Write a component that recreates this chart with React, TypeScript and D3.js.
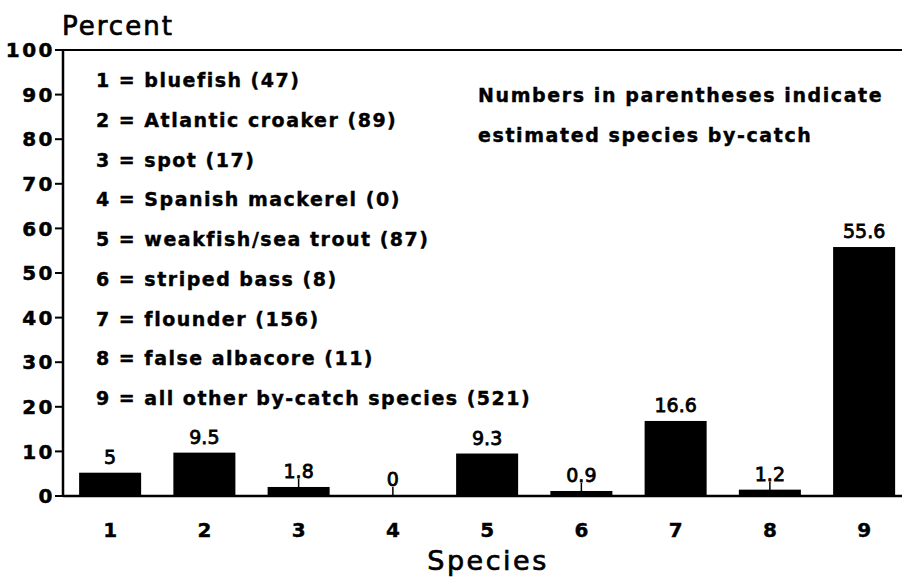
import React from "react";
import * as d3 from "d3";

const categories = ["1", "2", "3", "4", "5", "6", "7", "8", "9"];
const percents = [5, 9.5, 1.8, 0, 9.3, 0.9, 16.6, 1.2, 55.6];
const valueLabels = ["5", "9.5", "1.8", "0", "9.3", "0.9", "16.6", "1.2", "55.6"];
const legendItems = [
  "1 = bluefish (47)",
  "2 = Atlantic croaker (89)",
  "3 = spot (17)",
  "4 = Spanish mackerel (0)",
  "5 = weakfish/sea trout (87)",
  "6 = striped bass (8)",
  "7 = flounder (156)",
  "8 = false albacore (11)",
  "9 = all other by-catch species (521)",
];
const noteLines = ["Numbers in parentheses indicate", "estimated species by-catch"];
const yTicks = [0, 10, 20, 30, 40, 50, 60, 70, 80, 90, 100];

const W = 902;
const H = 581;
const FONT = "'DejaVu Sans', sans-serif";

export default function App() {
  const x0 = 63;
  const step = 94.25;
  const x = d3
    .scaleBand<string>()
    .domain(categories)
    .range([x0, x0 + step * categories.length])
    .paddingInner(0.342)
    .paddingOuter(0.171);
  const y = d3.scaleLinear().domain([0, 100]).range([496, 50]);

  return (
    <svg
      width={W}
      height={H}
      style={{ position: "absolute", left: 0, top: 0, background: "#fff" }}
      fontFamily={FONT}
    >
      <rect x={0} y={0} width={W} height={H} fill="#fff" />
      {/* Title */}
      <text x={62} y={35} fontSize={26} letterSpacing={2} fill="#000" stroke="#000" strokeWidth={0.7}>
        Percent
      </text>
      {/* frame top */}
      <line x1={x0} x2={W} y1={y(100)} y2={y(100)} stroke="#000" strokeWidth={2} />
      {/* y axis */}
      <line x1={x0} x2={x0} y1={y(100) - 1} y2={y(0) + 1} stroke="#000" strokeWidth={2.5} />
      {yTicks.map((t) => (
        <g key={t}>
          <line x1={x0 - 8} x2={x0} y1={y(t)} y2={y(t)} stroke="#000" strokeWidth={2} />
          <text
            x={55}
            y={y(t)}
            dy="0.36em"
            textAnchor="end"
            fontSize={20}
            fontWeight="bold"
            letterSpacing={2.5}
            fill="#000"
            stroke="#000"
            strokeWidth={0.5}
          >
            {t}
          </text>
        </g>
      ))}
      {/* bars */}
      {percents.map((v, i) => {
        const c = categories[i];
        const bx = x(c)!;
        const bw = x.bandwidth();
        const top = y(v);
        return (
          <g key={c}>
            <rect x={bx} y={top - 1} width={bw} height={y(0) - top + 1} fill="#000" />
            {v < 2 && (
              <line
                x1={bx + bw / 2}
                x2={bx + bw / 2}
                y1={top - 9}
                y2={top}
                stroke="#000"
                strokeWidth={1.5}
              />
            )}
            <text
              x={bx + bw / 2}
              y={top - 10}
              textAnchor="middle"
              fontSize={19}
              fill="#000"
              stroke="#000"
              strokeWidth={0.8}
            >
              {valueLabels[i]}
            </text>
            <text
              x={bx + bw / 2}
              y={537}
              textAnchor="middle"
              fontSize={20}
              fontWeight="bold"
              fill="#000"
              stroke="#000"
              strokeWidth={0.4}
            >
              {c}
            </text>
          </g>
        );
      })}
      {/* x axis baseline */}
      <line x1={x0} x2={W} y1={y(0)} y2={y(0)} stroke="#000" strokeWidth={2.5} />
      {/* legend */}
      {legendItems.map((s, i) => (
        <text
          key={s}
          x={96}
          y={87 + i * 39.75}
          fontSize={19}
          fontWeight="bold"
          letterSpacing={1.5}
          fill="#000"
          stroke="#000"
          strokeWidth={0.4}
        >
          {s}
        </text>
      ))}
      {/* note */}
      {noteLines.map((s, i) => (
        <text
          key={s}
          x={478}
          y={102 + i * 39.5}
          fontSize={19}
          fontWeight="bold"
          letterSpacing={1.6}
          fill="#000"
          stroke="#000"
          strokeWidth={0.4}
        >
          {s}
        </text>
      ))}
      {/* x axis title */}
      <text
        x={488}
        y={570}
        textAnchor="middle"
        fontSize={27}
        letterSpacing={2.5}
        fill="#000"
        stroke="#000"
        strokeWidth={0.7}
      >
        Species
      </text>
    </svg>
  );
}
